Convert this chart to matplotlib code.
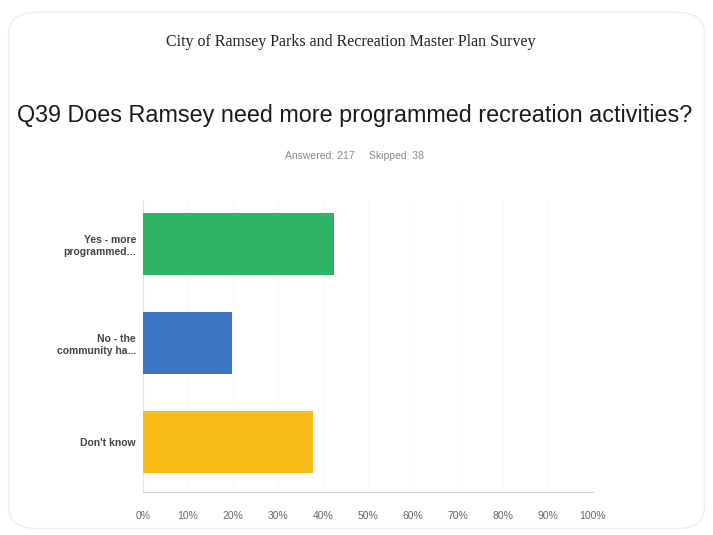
import matplotlib.pyplot as plt
from matplotlib.patches import FancyBboxPatch

labels = ["Yes - more\nprogrammed...", "No - the\ncommunity ha...", "Don't know"]
values = [42.5, 19.8, 37.8]
colors = ["#2db565", "#3c74c2", "#f6bc17"]
ticks = [0, 10, 20, 30, 40, 50, 60, 70, 80, 90, 100]
tick_labels = [f"{t}%" for t in ticks]

fig = plt.figure(figsize=(7.13, 5.35), dpi=100)
fig.patch.set_facecolor("white")

# rounded page border
border = FancyBboxPatch((0.012, 0.012), 0.976, 0.965, boxstyle="round,pad=0,rounding_size=0.04",
                        transform=fig.transFigure, fill=False, edgecolor="#eeeeee", linewidth=1.0)
fig.patches.append(border)

fig.text(0.492, 0.921, "City of Ramsey Parks and Recreation Master Plan Survey",
         ha="center", va="center", fontsize=11.5, family="Liberation Serif", color="#222222")
fig.text(0.497, 0.785, "Q39 Does Ramsey need more programmed recreation activities?",
         ha="center", va="center", fontsize=16.8, family="Liberation Sans", color="#1a1a1a")
fig.text(0.497, 0.708, "Answered: 217     Skipped: 38", ha="center", va="center",
         fontsize=7.5, family="Liberation Sans", color="#8a8a8a")

ax = fig.add_axes([143 / 713, 1 - 492 / 535, 450 / 713, 292 / 535])
y = range(len(values))
ax.barh(list(y), values, height=0.62, color=colors, zorder=3)
ax.set_ylim(2.505, -0.444)
ax.set_xlim(0, 100)

ax.set_yticks(list(y))
ax.set_yticklabels(labels, family="Liberation Sans", fontsize=7.5, color="#444444", weight="bold")
ax.set_xticks(ticks)
ax.set_xticklabels(tick_labels, family="Liberation Sans", fontsize=7.5, color="#666666")
ax.tick_params(axis="both", length=0)
ax.tick_params(axis="x", pad=14)
ax.tick_params(axis="y", pad=5)

ax.grid(axis="x", color="#fafafa", linewidth=0.8, zorder=0)
for s in ["top", "right"]:
    ax.spines[s].set_visible(False)
ax.spines["left"].set_color("#e6e6e6")
ax.spines["bottom"].set_color("#cfcfcf")

fig.savefig("out.png", dpi=100)
